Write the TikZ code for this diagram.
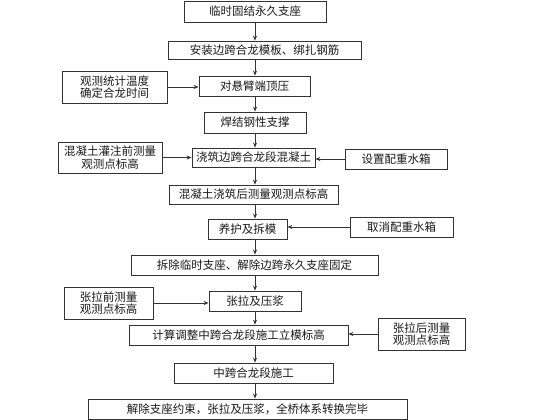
\documentclass[tikz,border=0pt]{standalone}
\usepackage{fontspec}
\setmainfont{Noto Sans CJK SC}
\usetikzlibrary{arrows.meta}
\tikzset{
  box/.style={draw=black!80, line width=.8pt, inner sep=1pt, align=center, text=black!90,
    font=\fontsize{11.5}{12.5}\selectfont},
}
\begin{document}
\begin{tikzpicture}[>={Stealth[length=5pt,width=4pt]}, x=1pt, y=-1pt, line width=.8pt, draw=black!80]
\useasboundingbox (0,0) rectangle (560,420);
\coordinate (col) at (255,0);
\node[box, minimum width=142pt, minimum height=21pt] (b1) at (255,11.5) {临时固结永久支座};
\node[box, minimum width=193pt, minimum height=18pt] (b2) at (264.5,50) {安装边跨合龙模板、绑扎钢筋};
\node[box, minimum width=111pt, minimum height=20pt] (b3) at (254.5,86) {对悬臂端顶压};
\node[box, minimum width=102pt, minimum height=21pt] (b4) at (255,122.5) {焊结钢性支撑};
\node[box, minimum width=123pt, minimum height=19pt] (b5) at (253.5,157.5) {浇筑边跨合龙段混凝土};
\node[box, minimum width=169pt, minimum height=19pt] (b6) at (253.5,194.5) {混凝土浇筑后测量观测点标高};
\node[box, minimum width=79pt, minimum height=20pt] (b7) at (247.5,229) {养护及拆模};
\node[box, minimum width=247pt, minimum height=20pt] (b8) at (254.5,265) {拆除临时支座、解除边跨永久支座固定};
\node[box, minimum width=92pt, minimum height=20pt] (b9) at (255,301) {张拉及压浆};
\node[box, minimum width=219pt, minimum height=20pt] (b10) at (238.5,335) {计算调整中跨合龙段施工立模标高};
\node[box, minimum width=159pt, minimum height=20pt] (b11) at (253.5,373) {中跨合龙段施工};
\node[box, minimum width=319pt, minimum height=20pt] (b12) at (247.5,409) {解除支座约束，张拉及压浆，全桥体系转换完毕};

\node[box, minimum width=105pt, minimum height=32pt] (l1) at (114.5,87) {观测统计温度\\确定合龙时间};
\node[box, minimum width=104pt, minimum height=31pt] (l2) at (110,157.5) {混凝土灌注前测量\\观测点标高};
\node[box, minimum width=89pt, minimum height=32pt] (l3) at (108.5,303) {张拉前测量\\观测点标高};
\node[box, minimum width=102pt, minimum height=20pt] (r1) at (396,159) {设置配重水箱};
\node[box, minimum width=103pt, minimum height=20pt] (r2) at (401.5,227) {取消配重水箱};
\node[box, minimum width=87pt, minimum height=32pt] (r3) at (421.5,334) {张拉后测量\\观测点标高};

\foreach \a/\b in {b1/b2,b2/b3,b3/b4,b4/b5,b5/b6,b6/b7,b7/b8,b8/b9,b9/b10,b10/b11,b11/b12}
  \draw[->] (\a.south -| col) -- (\b.north -| col);
\foreach \a/\b in {l1/b3,l2/b5,l3/b9}
  \draw[->] (\a.east) -- (\a.east -| \b.west);
\foreach \a/\b in {r1/b5,r2/b7,r3/b10}
  \draw[->] (\a.west) -- (\a.west -| \b.east);
\end{tikzpicture}
\end{document}
